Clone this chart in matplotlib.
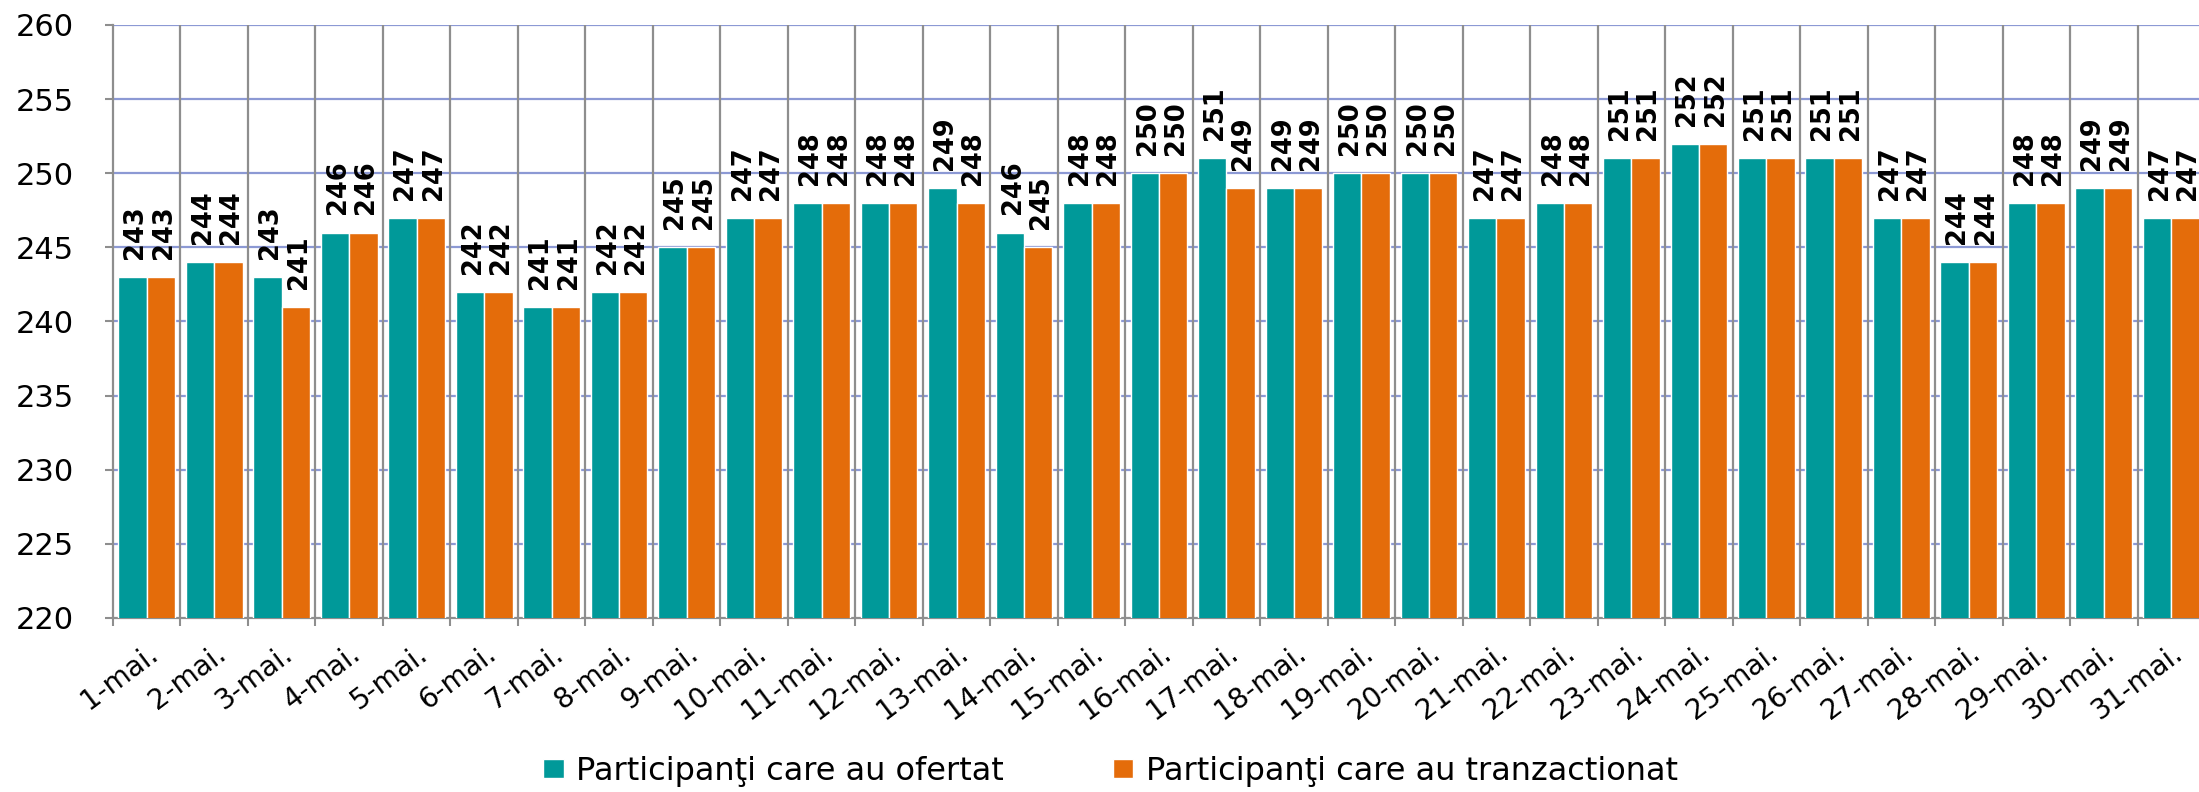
import numpy as np
import matplotlib.pyplot as plt
import matplotlib.transforms as mtransforms

days = [f"{d}-mai." for d in range(1, 32)]
ofertat = [243, 244, 243, 246, 247, 242, 241, 242, 245, 247, 248, 248, 249, 246, 248, 250,
           251, 249, 250, 250, 247, 248, 251, 252, 251, 251, 247, 244, 248, 249, 247]
tranzactionat = [243, 244, 241, 246, 247, 242, 241, 242, 245, 247, 248, 248, 248, 245, 248, 250,
                 249, 249, 250, 250, 247, 248, 251, 252, 251, 251, 247, 244, 248, 249, 247]
yticks = [220, 225, 230, 235, 240, 245, 250, 255, 260]

W, H = 2199, 792
fig = plt.figure(figsize=(W / 100, H / 100), dpi=100)
ax = fig.add_axes([113 / W, 1 - 618 / H, (2205 - 113) / W, (618 - 25) / H])

x = np.arange(len(days))
bw = 0.42
b1 = ax.bar(x - bw / 2, ofertat, bw, color='#009999', edgecolor='white', linewidth=1,
            zorder=3, label='Participanţi care au ofertat')
b2 = ax.bar(x + bw / 2, tranzactionat, bw, color='#E46C0A', edgecolor='white', linewidth=1,
            zorder=3, label='Participanţi care au tranzactionat')

for bars, vals in ((b1, ofertat), (b2, tranzactionat)):
    for r, v in zip(bars, vals):
        ax.annotate(str(v), (r.get_x() + r.get_width() / 2, v), xytext=(2, 13),
                    textcoords='offset points', rotation=90, ha='center', va='bottom',
                    fontsize=18.5, fontweight='bold', color='black', zorder=4,
                    annotation_clip=False)

ax.set_ylim(220, 260)
ax.set_xlim(-0.5, len(days) - 0.5)
ax.set_yticks(yticks)
ax.set_yticklabels([str(t) for t in yticks], fontsize=22)
for t in yticks[1:]:
    ax.axhline(t, color='#8C99D4', linewidth=1.6, zorder=1)
for b in np.arange(len(days)) + 0.5:
    ax.axvline(b, color='#8E8E8E', linewidth=1.6, zorder=1)

ax.set_xticks(x)
ax.set_xticklabels(days, rotation=37, ha='right', va='top', rotation_mode='anchor', fontsize=20)
shift = mtransforms.ScaledTranslation(-6 / 100, 0, fig.dpi_scale_trans)
for lab in ax.get_xticklabels():
    lab.set_transform(lab.get_transform() + shift)
ax.set_xticks(np.arange(len(days)) - 0.5, minor=True)
ax.tick_params(axis='x', which='major', length=0, pad=15)
ax.tick_params(axis='x', which='minor', length=6, color='#8E8E8E', width=1.5)
ax.tick_params(axis='y', length=6, color='#8E8E8E', width=1.5, pad=22)

for s in ('top', 'right'):
    ax.spines[s].set_visible(False)
for s in ('left', 'bottom'):
    ax.spines[s].set_color('#8E8E8E')
    ax.spines[s].set_linewidth(1.6)

fig.legend(handles=[b1, b2], loc='center', bbox_to_anchor=(0.505, 0.026), ncol=2,
           frameon=False, fontsize=23, handlelength=0.65, handleheight=0.55,
           handletextpad=0.4, columnspacing=3.4)

fig.savefig('out.png', dpi=100)
